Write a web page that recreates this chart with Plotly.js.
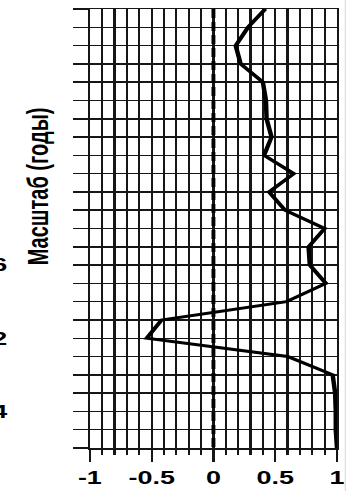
<!DOCTYPE html>
<html>
<head>
<meta charset="utf-8">
<script src="https://cdn.plot.ly/plotly-3.0.1.min.js"></script>
<style>
  html, body { margin: 0; padding: 0; background: #fff; overflow: hidden; }
  #wrap { width: 346px; height: 491px; overflow: hidden; position: relative; }
  /* the figure is drawn narrow and widened horizontally */
  #chart { width: 231px; height: 491px; transform: scaleX(1.4978); transform-origin: 0 0; }
</style>
</head>
<body>
<div id="wrap"><div id="chart"></div></div>
<script>
// scale level (row index, top to bottom)
const levels = [0, 1, 2, 3, 4, 5, 6, 7, 8, 9, 10, 11, 12, 13, 14, 15, 16, 17, 18, 19, 20, 21, 22, 23, 24];
// correlation at each scale level
const corr = [0.42, 0.28, 0.18, 0.22, 0.40, 0.425, 0.43, 0.47, 0.41, 0.65, 0.45, 0.58, 0.90,
              0.77, 0.78, 0.91, 0.59, -0.42, -0.54, 0.60, 0.965, 0.985, 0.99, 0.99, 1.0];
// labelled scales (years)
const scaleTickLevels = [14, 18, 22];
const scaleTickLabels = ['16', '32', '64'];
// correlation axis ticks
const corrTicks = [-1, -0.5, 0, 0.5, 1];
const corrTickLabels = ['-1', '-0.5', '0', '0.5', '1'];
const yTitle = 'Масштаб (годы)';

const yTickText = levels.map(l => {
  const i = scaleTickLevels.indexOf(l);
  return i >= 0 ? scaleTickLabels[i] : '';
});

const gridCol = '#161616';
const fontFam = 'Liberation Sans, Arial, sans-serif';

const trace = {
  x: corr,
  y: levels,
  type: 'scatter',
  mode: 'lines',
  line: { color: '#000', width: 3 },
  hoverinfo: 'skip'
};

const layout = {
  width: 231,
  height: 491,
  margin: { l: 60, r: 6.3, t: 9, b: 43 },
  paper_bgcolor: '#fff',
  plot_bgcolor: '#fff',
  showlegend: false,
  font: { family: fontFam, color: '#000' },
  xaxis: {
    range: [-1, 1],
    tickmode: 'array',
    tickvals: corrTicks,
    ticktext: corrTickLabels,
    ticks: 'outside',
    ticklen: 12,
    tickwidth: 1.5,
    tickcolor: gridCol,
    showgrid: true,
    gridcolor: gridCol,
    gridwidth: 1.5,
    zeroline: false,
    showline: true,
    mirror: true,
    linecolor: gridCol,
    linewidth: 1.5,
    tickfont: { size: 18, family: fontFam, weight: 'bold', color: '#000' },
    ticklabelstandoff: 1,
    minor: {
      dtick: 0.1,
      tick0: -1,
      ticks: 'outside',
      ticklen: 5,
      tickwidth: 1.5,
      tickcolor: gridCol,
      showgrid: true,
      gridcolor: gridCol,
      gridwidth: 1.5
    }
  },
  yaxis: {
    range: [24, 0],
    tickmode: 'array',
    tickvals: levels,
    ticktext: yTickText,
    ticks: 'outside',
    ticklen: 10,
    tickwidth: 1.5,
    tickcolor: gridCol,
    showgrid: true,
    gridcolor: gridCol,
    gridwidth: 1.5,
    zeroline: false,
    showline: true,
    mirror: true,
    linecolor: gridCol,
    linewidth: 1.5,
    tickfont: { size: 18, family: fontFam, weight: 'bold', color: '#000' },
    ticklabelstandoff: 40
  },
  shapes: [
    {
      type: 'line', xref: 'x', yref: 'y',
      x0: 0, x1: 0, y0: 0, y1: 24,
      line: { color: '#000', width: 2.6, dash: '9px,4px' }
    },
    {
      // light frame edge on the right
      type: 'line', xref: 'paper', yref: 'paper',
      x0: 1.034, x1: 1.034, y0: -0.1, y1: 1.03,
      line: { color: '#dde2e8', width: 1 }
    }
  ],
  annotations: [{
    text: yTitle,
    xref: 'paper', yref: 'paper',
    x: -0.215, y: 0.595,
    xanchor: 'center', yanchor: 'middle',
    textangle: -90,
    showarrow: false,
    font: { size: 20, family: fontFam, weight: 'bold', color: '#000' }
  }]
};

Plotly.newPlot('chart', [trace], layout, { staticPlot: true, displayModeBar: false });
</script>
</body>
</html>
